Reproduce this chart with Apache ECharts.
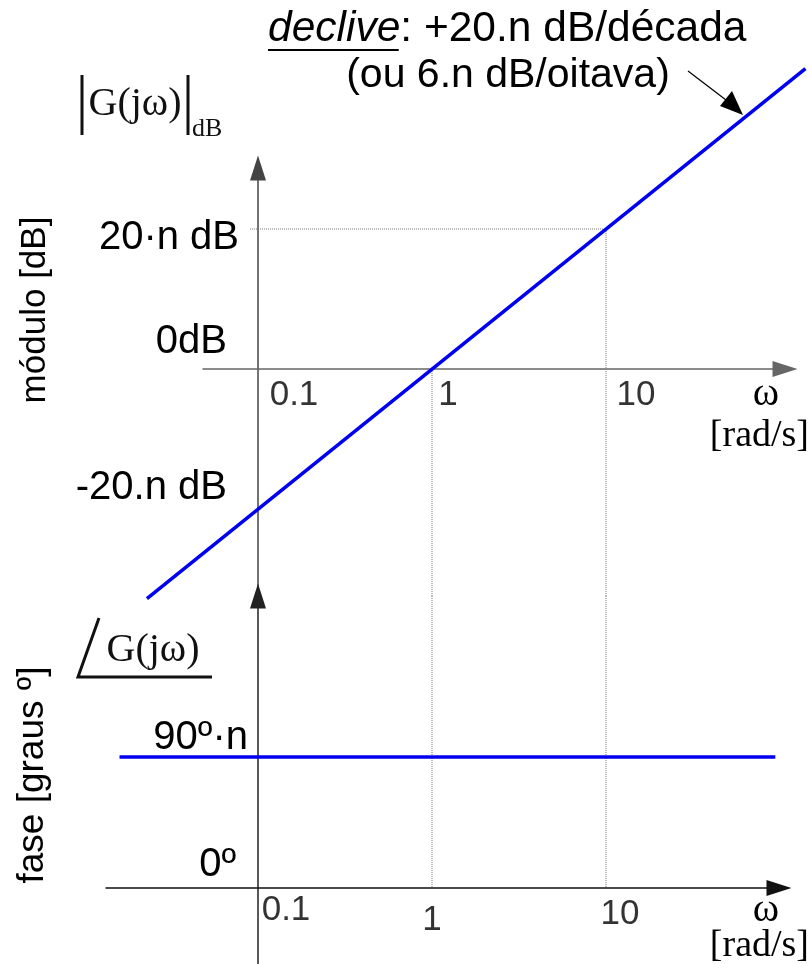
<!DOCTYPE html>
<html><head><meta charset="utf-8">
<script src="https://cdn.jsdelivr.net/npm/echarts@6/dist/echarts.min.js"></script>
<style>html,body{margin:0;padding:0;background:#fff}#c{width:812px;height:964px}</style>
</head><body><div id="c"></div>
<script>
// ---- data ----
const omegaTicks = [0.1, 1, 10];
const omegaTickLabels = ['0.1', '1', '10'];
const magTicks = [-20, 0, 20];
const magTickLabels = ['-20.n dB', '0dB', '20·n dB'];
const phaseTicks = [0, 90];
const phaseTickLabels = ['0º', '90º·n'];
const magOmega = [0.023, 140];
const magDb = [-32.8, 42.9];
const phaseOmega = [0.016, 94];
const phaseDeg = [90, 90];
const guideOmega = [1, 10];
const guideDb = [0, 20];
const guideHStartOmega = 0.09;

// ---- layout ----
const X01 = 258, DEC = 174;
const gA = {left: 203, right: 785, top: 168, bottom: 596};
const gB = {left: 106, right: 779, top: 596, bottom: 964};
const gC = {left: 0, right: 812, top: 168, bottom: 596};
const zeroA = 369, pxPerDb = 7;
const zeroB = 888, pxPerDeg = 131 / 90;
const w = px => 0.1 * Math.pow(10, (px - X01) / DEC);
const yMaxA = (zeroA - gA.top) / pxPerDb, yMinA = -(gA.bottom - zeroA) / pxPerDb;
const yMaxB = (zeroB - gB.top) / pxPerDeg, yMinB = -(gB.bottom - zeroB) / pxPerDeg;

const SANS = '"Liberation Sans", Arial, sans-serif';
const SERIF = '"Liberation Serif", "Times New Roman", serif';
const idxLin = (arr, v) => arr.findIndex(t => Math.abs(t - v) < 1e-6);

function richSet(n, base, pads) {
  const r = {};
  for (let i = 0; i < n; i++) r['t' + i] = Object.assign({}, base, {padding: pads[i]});
  return r;
}

const axisCol = '#444';
const arrowSize = [16, 25];
const dotted = {color: '#777', width: 1, type: 'dotted'};
const blue = '#0000f0';

const xLabBase = {fontFamily: SANS, fontSize: 35, color: '#000', align: 'center'};
const yLabBase = {fontFamily: SANS, fontSize: 40, color: '#000', align: 'right'};

const series = [];
series.push({
  type: 'line', xAxisIndex: 2, yAxisIndex: 2, clip: false, symbol: 'none', silent: true, z: 5,
  data: magOmega.map((v, i) => [v, magDb[i]]),
  lineStyle: {color: blue, width: 3.5}
});
guideOmega.forEach((g, i) => {
  series.push({type: 'line', xAxisIndex: 0, yAxisIndex: 0, symbol: 'none', silent: true, z: 2,
    data: [[g, guideDb[i]], [g, yMinA]], lineStyle: dotted});
  series.push({type: 'line', xAxisIndex: 1, yAxisIndex: 1, symbol: 'none', silent: true, z: 2,
    data: [[g, yMaxB], [g, 0]], lineStyle: dotted});
});
series.push({type: 'line', xAxisIndex: 0, yAxisIndex: 0, symbol: 'none', silent: true, z: 2,
  data: [[guideHStartOmega, guideDb[1]], [guideOmega[1], guideDb[1]]], lineStyle: dotted});
series.push({
  type: 'line', xAxisIndex: 1, yAxisIndex: 1, clip: false, symbol: 'none', silent: true, z: 5,
  data: phaseOmega.map((v, i) => [v, phaseDeg[i]]),
  lineStyle: {color: blue, width: 3.5}
});
function tickLabelSeries(xi, pads, dist) {
  return {
    type: 'scatter', xAxisIndex: xi, yAxisIndex: xi, silent: true, z: 6,
    symbolSize: 1, itemStyle: {color: 'rgba(0,0,0,0)'},
    data: omegaTicks.map(v => [v, 0]),
    label: {show: true, position: 'bottom', distance: dist, color: '#000',
      formatter: p => '{t' + p.dataIndex + '|' + omegaTickLabels[p.dataIndex] + '}',
      rich: richSet(3, xLabBase, pads)}
  };
}
series.push(tickLabelSeries(0, [[0, 0, 0, 72], [0, 0, 0, 32], [0, 0, 0, 60]], 8));
series.push(tickLabelSeries(1, [[0, 0, 0, 56], [10, 0, 0, 0], [4, 0, 0, 28]], 4));

function gridOf(g) {
  return {left: g.left, top: g.top, width: g.right - g.left, height: g.bottom - g.top,
          containLabel: false, outerBoundsMode: 'none'};
}
const hiddenAxis = {show: false};

const option = {
  animation: false,
  backgroundColor: '#fff',
  grid: [gridOf(gA), gridOf(gB), gridOf(gC)],
  xAxis: [
    {gridIndex: 0, type: 'log', logBase: 10, min: w(gA.left), max: w(gA.right),
     axisLine: {show: true, onZero: true, symbol: ['none', 'triangle'], symbolSize: arrowSize, lineStyle: {color: '#666', width: 1.5}},
     axisTick: {show: false}, splitLine: {show: false}, minorTick: {show: false}, axisLabel: {show: false}},
    {gridIndex: 1, type: 'log', logBase: 10, min: w(gB.left), max: w(gB.right),
     axisLine: {show: true, onZero: true, symbol: ['none', 'triangle'], symbolSize: arrowSize, lineStyle: {color: '#111', width: 1.5}},
     axisTick: {show: false}, splitLine: {show: false}, minorTick: {show: false}, axisLabel: {show: false}},
    Object.assign({gridIndex: 2, type: 'log', logBase: 10, min: w(gC.left), max: w(gC.right)}, hiddenAxis)
  ],
  yAxis: [
    {gridIndex: 0, type: 'value', min: yMinA, max: yMaxA, position: 'left', offset: -(X01 - gA.left),
     axisLine: {show: true, onZero: false, symbol: ['none', 'triangle'], symbolSize: arrowSize, lineStyle: {color: axisCol, width: 1.5}},
     axisTick: {show: false}, splitLine: {show: false},
     axisLabel: {show: true, customValues: magTicks, margin: 19,
       formatter: v => { const i = idxLin(magTicks, v); return i < 0 ? '' : '{t' + i + '|' + magTickLabels[i] + '}'; },
       rich: richSet(3, yLabBase, [[0, 12, 42, 0], [0, 12, 54, 0], [18, 0, 0, 0]])}},
    {gridIndex: 1, type: 'value', min: yMinB, max: yMaxB, position: 'left', offset: -(X01 - gB.left),
     axisLine: {show: true, onZero: false, symbol: ['none', 'triangle'], symbolSize: arrowSize, lineStyle: {color: '#222', width: 1.5}},
     axisTick: {show: false}, splitLine: {show: false},
     axisLabel: {show: true, customValues: phaseTicks, margin: 10,
       formatter: v => { const i = idxLin(phaseTicks, v); return i < 0 ? '' : '{t' + i + '|' + phaseTickLabels[i] + '}'; },
       rich: richSet(2, yLabBase, [[0, 12, 47, 0], [0, 0, 39, 0]])}},
    Object.assign({gridIndex: 2, type: 'value', min: yMinA, max: yMaxA}, hiddenAxis)
  ],
  series: series
};

const ctx = document.createElement('canvas').getContext('2d');
ctx.font = 'italic 42px ' + SANS;
const declW = ctx.measureText('declive').width;

const ink = '#111';
option.graphic = [
  {type: 'text', x: 35, y: 310, rotation: Math.PI / 2,
   style: {text: 'módulo [dB]', fontFamily: SANS, fontSize: 35, fill: '#000', align: 'center', verticalAlign: 'middle'}},
  {type: 'text', x: 33, y: 775, rotation: Math.PI / 2,
   style: {text: 'fase [graus º]', fontFamily: SANS, fontSize: 37, fill: '#000', align: 'center', verticalAlign: 'middle'}},
  {type: 'line', shape: {x1: 82, y1: 75, x2: 82, y2: 135}, style: {stroke: ink, lineWidth: 3}},
  {type: 'line', shape: {x1: 188, y1: 75, x2: 188, y2: 135}, style: {stroke: ink, lineWidth: 3}},
  {type: 'text', x: 135, y: 104, style: {text: 'G(jω)', fontFamily: SERIF, fontSize: 40, fill: ink, align: 'center', verticalAlign: 'middle'}},
  {type: 'text', x: 192, y: 129, style: {text: 'dB', fontFamily: SERIF, fontSize: 26, fill: ink, align: 'left', verticalAlign: 'middle'}},
  {type: 'polyline', shape: {points: [[99, 618], [78, 677], [212, 677]]}, style: {stroke: ink, lineWidth: 3, fill: null}},
  {type: 'text', x: 153, y: 650, style: {text: 'G(jω)', fontFamily: SERIF, fontSize: 40, fill: ink, align: 'center', verticalAlign: 'middle'}},
  {type: 'text', x: 766, y: 394, style: {text: 'ω', fontFamily: SERIF, fontSize: 40, fill: '#000', align: 'center', verticalAlign: 'middle'}},
  {type: 'text', x: 809, y: 436, style: {text: '[rad/s]', fontFamily: SERIF, fontSize: 38, fill: '#000', align: 'right', verticalAlign: 'middle'}},
  {type: 'text', x: 766, y: 910, style: {text: 'ω', fontFamily: SERIF, fontSize: 40, fill: '#000', align: 'center', verticalAlign: 'middle'}},
  {type: 'text', x: 809, y: 946, style: {text: '[rad/s]', fontFamily: SERIF, fontSize: 38, fill: '#000', align: 'right', verticalAlign: 'middle'}},
  {type: 'text', x: 268, y: 29, style: {
    text: '{i|declive}{n|: +20.n dB/década}', align: 'left', verticalAlign: 'middle',
    rich: {i: {fontFamily: SANS, fontSize: 42.5, fontStyle: 'italic', fill: '#000'}, n: {fontFamily: SANS, fontSize: 42.5, fill: '#000'}}}},
  {type: 'line', shape: {x1: 268, y1: 50, x2: 268 + declW, y2: 50}, style: {stroke: '#000', lineWidth: 2}},
  {type: 'text', x: 508, y: 76, style: {text: '(ou 6.n dB/oitava)', fontFamily: SANS, fontSize: 41, fill: '#000', align: 'center', verticalAlign: 'middle'}},
  {type: 'line', shape: {x1: 688, y1: 71, x2: 726, y2: 100}, style: {stroke: '#000', lineWidth: 1.2}},
  {type: 'polygon', shape: {points: [[743, 115], [720, 106], [732, 91]]}, style: {fill: '#000'}}
];

const chart = echarts.init(document.getElementById('c'), null, {renderer: 'canvas'});
chart.setOption(option);
</script></body></html>
